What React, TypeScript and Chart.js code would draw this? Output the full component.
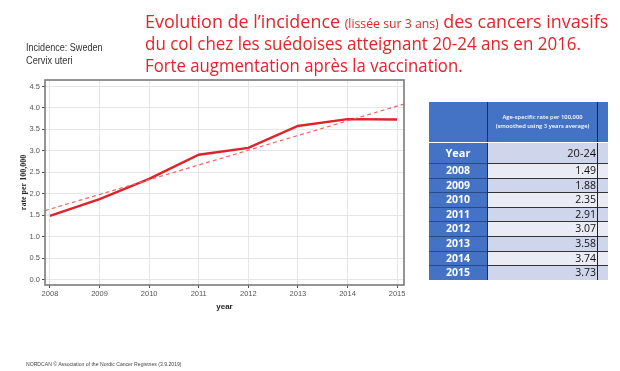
import React, { useEffect, useLayoutEffect, useRef } from "react";
import { Chart, registerables } from "chart.js";

Chart.register(...registerables);

const years = [2008, 2009, 2010, 2011, 2012, 2013, 2014, 2015];
const rates = [1.49, 1.88, 2.35, 2.91, 3.07, 3.58, 3.74, 3.73];
const rateLabels = ["1.49", "1.88", "2.35", "2.91", "3.07", "3.58", "3.74", "3.73"];
const trendYears = [2007.9, 2015.14];
const trendRates = [1.61, 4.09];
const yTicks = [0, 0.5, 1, 1.5, 2, 2.5, 3, 3.5, 4, 4.5];

const RED = "#e3242b";

function FitText(props: { left: number; top: number; width: number; size: number; color: string; family: string; weight?: string | number; children: React.ReactNode }) {
  const ref = useRef<HTMLSpanElement | null>(null);
  useLayoutEffect(() => {
    const el = ref.current;
    if (!el) return;
    const w = el.offsetWidth;
    if (w > 0) el.style.transform = `scaleX(${props.width / w})`;
  });
  return (
    <span
      ref={ref}
      style={{
        position: "absolute",
        left: props.left,
        top: props.top,
        fontSize: props.size,
        lineHeight: `${props.size}px`,
        color: props.color,
        fontFamily: props.family,
        fontWeight: props.weight ?? "normal",
        whiteSpace: "nowrap",
        transformOrigin: "left center",
        display: "inline-block",
      }}
    >
      {props.children}
    </span>
  );
}

export default function App() {
  const canvasRef = useRef<HTMLCanvasElement | null>(null);

  useEffect(() => {
    document.body.style.margin = "0";
    const canvas = canvasRef.current;
    if (!canvas) return;
    const framePlugin = {
      id: "frame",
      afterDatasetsDraw(chart: any) {
        const { ctx, chartArea } = chart;
        ctx.save();
        ctx.strokeStyle = "#7a7a7a";
        ctx.lineWidth = 1.6;
        ctx.strokeRect(chartArea.left, chartArea.top, chartArea.right - chartArea.left, chartArea.bottom - chartArea.top);
        ctx.restore();
      },
    };
    const chart = new Chart(canvas, {
      type: "line",
      data: {
        datasets: [
          {
            label: "trend",
            data: trendYears.map((x, i) => ({ x, y: trendRates[i] })),
            borderColor: "#e8676b",
            borderWidth: 1.2,
            borderDash: [4, 3],
            pointRadius: 0,
            fill: false,
          },
          {
            label: "20-24",
            data: years.map((x, i) => ({ x, y: rates[i] })),
            borderColor: "#e0222a",
            borderWidth: 2.4,
            pointRadius: 0,
            fill: false,
            tension: 0,
          },
        ],
      },
      options: {
        animation: false,
        responsive: false,
        maintainAspectRatio: false,
        layout: { padding: { left: 19, top: 80, right: 216, bottom: 59 } },
        plugins: { legend: { display: false }, tooltip: { enabled: false } },
        scales: {
          x: {
            type: "linear",
            min: 2007.9,
            max: 2015.14,
            afterBuildTicks: (s: any) => {
              s.ticks = years.map((v) => ({ value: v }));
            },
            afterFit: (s: any) => {
              s.height = 27;
            },
            ticks: {
              callback: (v: any) => String(v),
              color: "#555",
              font: { family: "Liberation Sans", size: 7.5 },
              padding: 1,
              maxRotation: 0,
              autoSkip: false,
            },
            grid: { color: "#e6e6e6", lineWidth: 1, tickLength: 3, tickColor: "#555", drawTicks: true },
            border: { display: false },
            title: {
              display: true,
              text: "year",
              color: "#222",
              font: { family: "Liberation Sans", size: 8, weight: "bold" },
              padding: { top: 2, bottom: 0 },
            },
          },
          y: {
            type: "linear",
            min: -0.12,
            max: 4.65,
            afterBuildTicks: (s: any) => {
              s.ticks = yTicks.map((v) => ({ value: v }));
            },
            afterFit: (s: any) => {
              s.width = 26;
            },
            ticks: {
              callback: (v: any) => Number(v).toFixed(1),
              color: "#555",
              font: { family: "Liberation Sans", size: 7.5 },
              padding: 2,
              autoSkip: false,
            },
            grid: { color: "#e6e6e6", lineWidth: 1, tickLength: 3, tickColor: "#555", drawTicks: true },
            border: { display: false },
            title: {
              display: true,
              text: "rate per 100,000",
              color: "#222",
              font: { family: "Liberation Serif", size: 8, weight: "bold" },
              padding: { top: 0, bottom: 0 },
            },
          },
        },
      },
      plugins: [framePlugin],
    } as any);
    return () => chart.destroy();
  }, []);

  const rowTop = 163;
  const rowH = 14.6;

  return (
    <div style={{ position: "absolute", left: 0, top: 0, width: 620, height: 371, background: "#fff", overflow: "hidden" }}>
      <canvas ref={canvasRef} width={620} height={371} style={{ position: "absolute", left: 0, top: 0, width: 620, height: 371 }} />

      <FitText left={145} top={12} width={463} size={19} color={RED} family="'Open Sans', 'Noto Sans', sans-serif">
        Evolution de l’incidence <span style={{ fontSize: 13 }}>(lissée sur 3 ans)</span> des cancers invasifs
      </FitText>
      <FitText left={145} top={34} width={436} size={19} color={RED} family="'Open Sans', 'Noto Sans', sans-serif">
        du col chez les suédoises atteignant 20-24 ans en 2016.
      </FitText>
      <FitText left={145} top={56} width={318} size={19} color={RED} family="'Open Sans', 'Noto Sans', sans-serif">
        Forte augmentation après la vaccination.
      </FitText>

      <FitText left={26} top={43} width={77} size={10} color="#333" family="'Liberation Sans', sans-serif">
        Incidence: Sweden
      </FitText>
      <FitText left={26} top={56} width={47} size={10} color="#333" family="'Liberation Sans', sans-serif">
        Cervix uteri
      </FitText>

      <FitText left={26} top={361} width={156} size={6} color="#444" family="'Liberation Sans', sans-serif">
        NORDCAN © Association of the Nordic Cancer Registries (3.9.2019)
      </FitText>

      {/* table */}
      <div style={{ position: "absolute", left: 429, top: 102, width: 58, height: 40, background: "#4472c4" }} />
      <div style={{ position: "absolute", left: 487, top: 102, width: 121, height: 40, background: "#4472c4", borderLeft: "1px solid #1f2f55", boxSizing: "border-box" }} />
      <div style={{ position: "absolute", left: 488, top: 113, width: 109, textAlign: "center", color: "#fff", fontFamily: "'Open Sans', sans-serif", fontSize: 5.8, lineHeight: "9px", fontWeight: 600 }}>
        Age-specific rate per 100,000
        <br />
        (smoothed using 3 years average)
      </div>
      <div style={{ position: "absolute", left: 429, top: 143, width: 58, height: 20, background: "#4472c4", color: "#fff", fontFamily: "'Open Sans', sans-serif", fontWeight: "bold", fontSize: 11, lineHeight: "20px", textAlign: "center" }}>
        Year
      </div>
      <div style={{ position: "absolute", left: 487, top: 143, width: 121, height: 20, background: "#cfd5ea", borderLeft: "1px solid #1f2f55", boxSizing: "border-box" }} />
      <div style={{ position: "absolute", left: 487, top: 143, width: 109, height: 20, color: "#111", fontFamily: "'Open Sans', sans-serif", fontSize: 11, lineHeight: "20px", textAlign: "right" }}>
        20-24
      </div>
      {years.map((y, i) => (
        <React.Fragment key={y}>
          <div
            style={{
              position: "absolute",
              left: 429,
              top: rowTop + i * rowH,
              width: 58,
              height: rowH,
              background: "#4472c4",
              borderTop: "1px solid #2a4a85",
              boxSizing: "border-box",
              color: "#fff",
              fontFamily: "'Open Sans', sans-serif",
              fontWeight: "bold",
              fontSize: 10.5,
              lineHeight: `${rowH - 1}px`,
              textAlign: "center",
            }}
          >
            {y}
          </div>
          <div
            style={{
              position: "absolute",
              left: 487,
              top: rowTop + i * rowH,
              width: 121,
              height: rowH,
              background: i % 2 === 0 ? "#e9ebf5" : "#cfd5ea",
              borderTop: "1px solid #333",
              borderLeft: "1px solid #1f2f55",
              boxSizing: "border-box",
            }}
          />
          <div
            style={{
              position: "absolute",
              left: 487,
              top: rowTop + i * rowH,
              width: 109,
              height: rowH,
              color: "#111",
              fontFamily: "'Open Sans', sans-serif",
              fontSize: 10.5,
              lineHeight: `${rowH}px`,
              textAlign: "right",
            }}
          >
            {rateLabels[i]}
          </div>
        </React.Fragment>
      ))}
      <div style={{ position: "absolute", left: 597, top: 102, width: 1, height: 178, background: "#222" }} />
      <div style={{ position: "absolute", left: 429, top: 142, width: 179, height: 1, background: "#fff" }} />
    </div>
  );
}
